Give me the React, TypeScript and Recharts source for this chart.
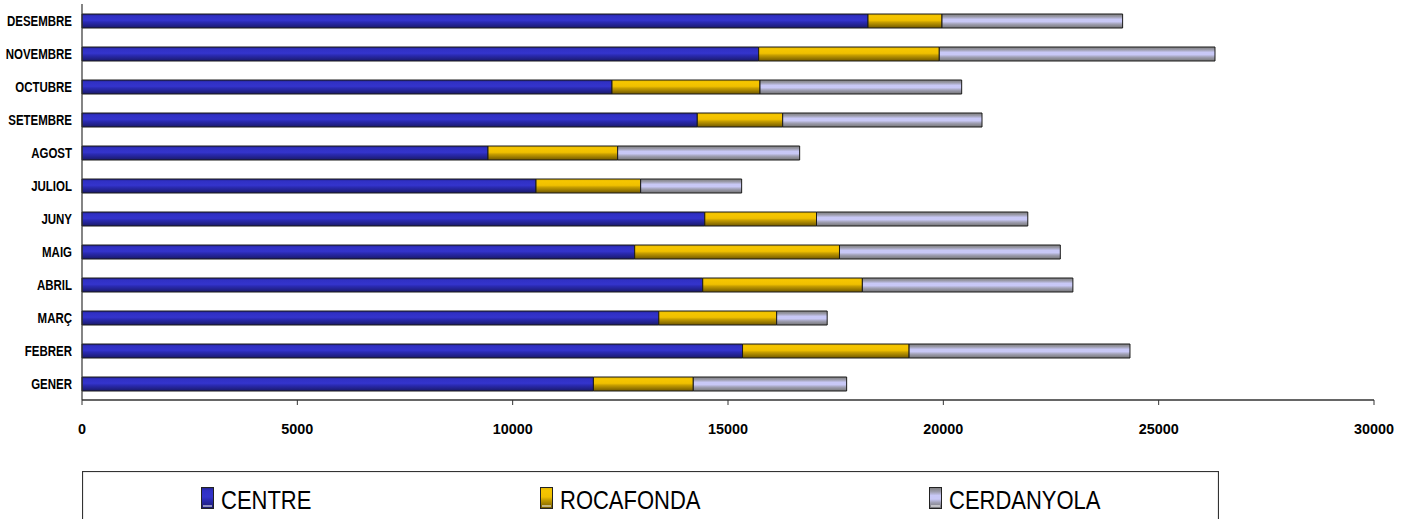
import React from 'react';
import { BarChart, Bar, XAxis, YAxis, Legend } from 'recharts';

const months = ['GENER', 'FEBRER', 'MARÇ', 'ABRIL', 'MAIG', 'JUNY', 'JULIOL', 'AGOST', 'SETEMBRE', 'OCTUBRE', 'NOVEMBRE', 'DESEMBRE'];
const centre = [11875, 15338, 13393, 14413, 12833, 14461, 10542, 9427, 14287, 12306, 15712, 18251];
const rocafonda = [2319, 3867, 2737, 3707, 4756, 2594, 2430, 3011, 1983, 3437, 4194, 1718];
const cerdanyola = [3561, 5129, 1173, 4888, 5127, 4906, 2345, 4226, 4628, 4683, 6402, 4194];
const xTicks = [0, 5000, 10000, 15000, 20000, 25000, 30000];
const seriesNames = ['CENTRE', 'ROCAFONDA', 'CERDANYOLA'];

const data = months.map((m, i) => ({
  month: m,
  CENTRE: centre[i],
  ROCAFONDA: rocafonda[i],
  CERDANYOLA: cerdanyola[i],
}));

const FONT = '"Liberation Sans", Arial, Helvetica, sans-serif';

const gradStops: Record<string, [number, string][]> = {
  gCentre: [
    [0, '#22228a'], [0.15, '#3030c4'], [0.45, '#3434cc'], [0.6, '#2a2ab0'], [0.8, '#22228e'], [1, '#1a1a66'],
  ],
  gRoca: [
    [0, '#e0b400'], [0.15, '#f6c600'], [0.45, '#f0c000'], [0.6, '#c49c00'], [0.8, '#9a7a00'], [1, '#6e5600'],
  ],
  gCerd: [
    [0, '#7c7c7c'], [0.2, '#9c9cac'], [0.38, '#c8c8f6'], [0.55, '#c8c8f6'], [0.72, '#a0a0b4'], [1, '#747474'],
  ],
};

const Defs = ({ suffix }: { suffix: string }) => (
  <defs>
    {Object.keys(gradStops).map((k) => (
      <linearGradient key={k} id={k + suffix} x1="0" y1="0" x2="0" y2="1">
        {gradStops[k].map(([o, c], j) => (
          <stop key={j} offset={o} stopColor={c} />
        ))}
      </linearGradient>
    ))}
  </defs>
);

const YTick = (props: any) => {
  const { x, y, payload } = props;
  return (
    <g transform={`translate(${x},${y})`}>
      <text
        transform="scale(0.82,1)"
        textAnchor="end"
        dy={5}
        fontSize={14}
        fontWeight="bold"
        fontFamily={FONT}
        fill="#000"
      >
        {payload.value}
      </text>
    </g>
  );
};

const XTick = (props: any) => {
  const { x, y, payload } = props;
  return (
    <g transform={`translate(${x},${y})`}>
      <text
        transform="scale(0.96,1)"
        textAnchor="middle"
        fontSize={15}
        fontWeight="bold"
        fontFamily={FONT}
        fill="#000"
      >
        {payload.value}
      </text>
    </g>
  );
};

const legendGrads = ['gCentre', 'gRoca', 'gCerd'];
const legendItemX = [119, 458, 847];

const LegendContent = () => (
  <svg width={1137} height={60} style={{ display: 'block' }}>
    <Defs suffix="L" />
    <rect x={0.5} y={0.5} width={1136} height={70} fill="#fff" stroke="#333" strokeWidth={1.2} />
    {seriesNames.map((n, i) => (
      <g key={n} transform={`translate(${legendItemX[i]},0)`}>
        <rect x={0.5} y={16.5} width={12} height={21} fill={`url(#${legendGrads[i]}L)`} stroke="#222" strokeWidth={1} />
        <line x1={2} x2={11} y1={35} y2={35} stroke="#fff" strokeWidth={1} />
        <text x={0} y={0} transform="translate(20,38) scale(0.88,1)" fontSize={25} fontFamily={FONT} fill="#000">
          {n}
        </text>
      </g>
    ))}
  </svg>
);

export default function App() {
  return (
    <div style={{ position: 'absolute', left: 0, top: 0, background: '#fff' }}>
      <BarChart
        width={1407}
        height={519}
        data={data}
        layout="vertical"
        margin={{ top: 4, right: 33, left: 0, bottom: 79 }}
        barCategoryGap={0}
      >
        <Defs suffix="" />
        <XAxis
          type="number"
          domain={[0, 30000]}
          ticks={xTicks}
          interval={0}
          height={40}
          tickSize={5}
          tickMargin={29}
          tick={<XTick />}
          axisLine={{ stroke: '#333', strokeWidth: 1.5 }}
          tickLine={{ stroke: '#333' }}
        />
        <YAxis
          type="category"
          dataKey="month"
          reversed
          width={82}
          tickSize={0}
          tickMargin={10}
          tickLine={false}
          interval={0}
          tick={<YTick />}
          axisLine={{ stroke: '#333', strokeWidth: 1.2 }}
        />
        <Legend
          layout="vertical"
          align="center"
          verticalAlign="middle"
          content={<LegendContent />}
          wrapperStyle={{ position: 'absolute', left: 82, top: 471, width: 1137, height: 60 }}
        />
        <Bar dataKey="CENTRE" stackId="s" barSize={14} fill="url(#gCentre)" stroke="#1a1a1a" strokeWidth={1} isAnimationActive={false} />
        <Bar dataKey="ROCAFONDA" stackId="s" barSize={14} fill="url(#gRoca)" stroke="#1a1a1a" strokeWidth={1} isAnimationActive={false} />
        <Bar dataKey="CERDANYOLA" stackId="s" barSize={14} fill="url(#gCerd)" stroke="#1a1a1a" strokeWidth={1} isAnimationActive={false} />
      </BarChart>
    </div>
  );
}
